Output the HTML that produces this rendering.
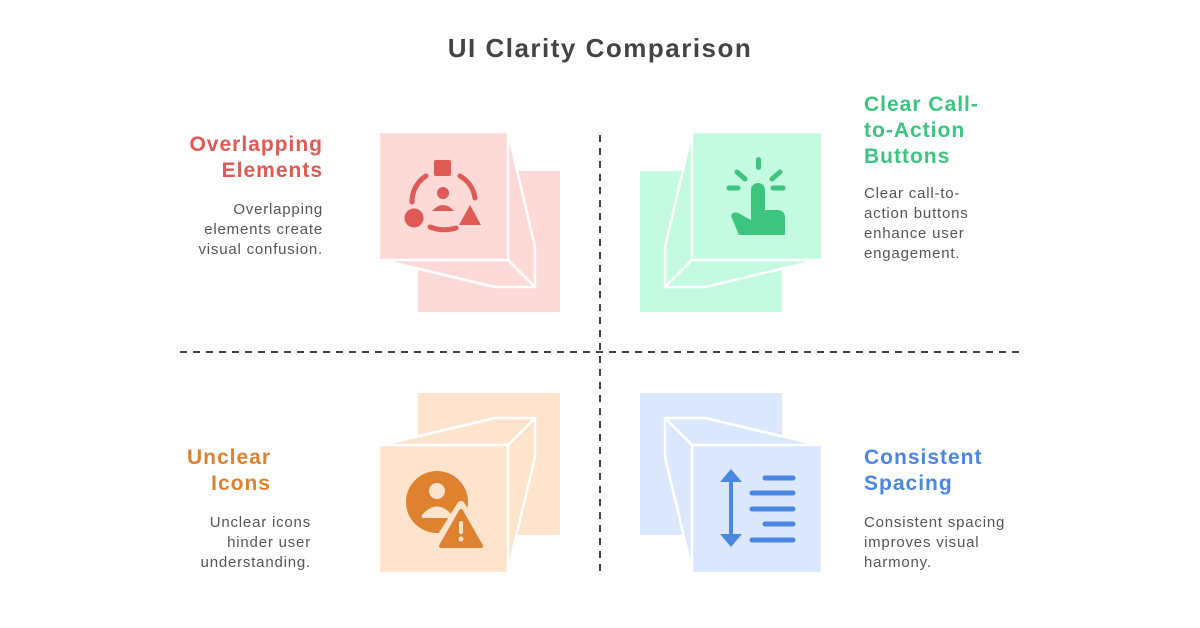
<!DOCTYPE html>
<html><head><meta charset="utf-8"><style>
body{margin:0;width:1200px;height:628px;background:#fff;position:relative;overflow:hidden;font-family:"Liberation Sans",sans-serif}
.t{position:absolute;white-space:nowrap}
.h{font-weight:bold;font-size:21px;line-height:26px;letter-spacing:1px}
.b{font-size:15px;line-height:20px;color:#555;letter-spacing:0.8px}
.r{text-align:right}
</style></head><body>
<svg width="1200" height="628" style="position:absolute;left:0;top:0">
<text x="600" y="57" text-anchor="middle" font-family="Liberation Sans" font-weight="bold" font-size="26" letter-spacing="1.5" fill="#444">UI Clarity Comparison</text>
<g stroke="#444" stroke-width="2" stroke-dasharray="7,6">
<line x1="600" y1="135" x2="600" y2="572"/>
<line x1="180" y1="352" x2="1020" y2="352"/>
</g>
<g stroke="#fff" stroke-width="2.5" stroke-linejoin="round">
<rect x="418" y="171" width="142" height="141" fill="#fdd9d8" stroke="none"/>
<polygon points="508,132 535,247 535,287 495,287 390,262 379,260 379,132" fill="#fdd9d8"/>
<rect x="379" y="132" width="129" height="128" fill="#fdd9d8"/>
<line x1="508" y1="260" x2="535" y2="287"/>
<rect x="640" y="171" width="142" height="141" fill="#c4fae0" stroke="none"/>
<polygon points="692,132 665,247 665,287 705,287 810,262 822,260 822,132" fill="#c4fae0"/>
<rect x="692" y="132" width="130" height="128" fill="#c4fae0"/>
<line x1="692" y1="260" x2="665" y2="287"/>
<rect x="418" y="393" width="142" height="142" fill="#fee3cd" stroke="none"/>
<polygon points="379,445 390,443 495,418 535,418 535,457 510,562 508,573 379,573" fill="#fee3cd"/>
<rect x="379" y="445" width="129" height="128" fill="#fee3cd"/>
<line x1="508" y1="445" x2="535" y2="418"/>
<rect x="640" y="393" width="142" height="142" fill="#dae7fd" stroke="none"/>
<polygon points="822,445 810,443 705,418 665,418 665,457 690,562 692,573 822,573" fill="#dae7fd"/>
<rect x="692" y="445" width="130" height="128" fill="#dae7fd"/>
<line x1="692" y1="445" x2="665" y2="418"/>
</g>
<g fill="#e05a55">
<rect x="434" y="160" width="17" height="16" rx="2"/>
<circle cx="414" cy="218" r="9.5"/>
<polygon points="470,205 481,225 459,225"/>
<circle cx="443" cy="193" r="6"/>
<path d="M432,211 q11,-12 22,0 z"/>
</g>
<g fill="none" stroke="#e05a55" stroke-width="5" stroke-linecap="round">
<path d="M426,176 A30,30 0 0 0 412,202"/>
<path d="M460,176 A30,30 0 0 1 475,198"/>
<path d="M430,227 Q443,232 456,228"/>
</g>
<g fill="#3dc47e">
<rect x="756" y="157" width="5" height="13" rx="2.5"/>
<g stroke="#3dc47e" stroke-width="5" stroke-linecap="round">
<line x1="737" y1="172" x2="745" y2="179"/>
<line x1="780" y1="172" x2="772" y2="179"/>
<line x1="729" y1="188" x2="738" y2="188"/>
<line x1="773" y1="188" x2="783" y2="188"/>
</g>
<path d="M751,190 a7,7 0 0 1 14,0 v20 h12 q8,0 8,8 v17 h-46 l-8,-19 q2,-6 9,-2 l11,6 z"/>
</g>
<circle cx="437" cy="502" r="31" fill="#df8230"/>
<circle cx="437" cy="491" r="8" fill="#fee3cd"/>
<path d="M422,515 q15,-17 30,0 v3 h-30 z" fill="#fee3cd"/>
<path d="M461,505 L488,550 L433,550 Z" fill="#fee3cd" stroke="#fee3cd" stroke-width="8" stroke-linejoin="round"/>
<path d="M461,511 L481,546 L441,546 Z" fill="#df8230" stroke="#df8230" stroke-width="4" stroke-linejoin="round"/>
<rect x="459" y="521" width="4" height="13" rx="2" fill="#fee3cd"/>
<circle cx="461" cy="539" r="2.5" fill="#fee3cd"/>
<g fill="#4a86e3">
<polygon points="731,469 720,482 742,482"/>
<polygon points="731,547 720,534 742,534"/>
<rect x="729" y="478" width="4" height="60"/>
</g>
<g stroke="#4a86e3" stroke-width="5" stroke-linecap="round">
<line x1="765" y1="478" x2="793" y2="478"/>
<line x1="752" y1="493" x2="793" y2="493"/>
<line x1="752" y1="509" x2="793" y2="509"/>
<line x1="765" y1="524" x2="793" y2="524"/>
<line x1="752" y1="540" x2="793" y2="540"/>
</g>
</svg>
<div class="t h r" style="right:877px;top:132px;color:#e05a55">Overlapping<br>Elements</div>
<div class="t b r" style="right:877px;top:200px">Overlapping<br>elements create<br>visual confusion.</div>
<div class="t h" style="left:864px;top:92px;color:#3dc47e">Clear Call-<br>to-Action<br>Buttons</div>
<div class="t b" style="left:864px;top:184px">Clear call-to-<br>action buttons<br>enhance user<br>engagement.</div>
<div class="t h r" style="right:929px;top:445px;color:#df8230">Unclear<br>Icons</div>
<div class="t b r" style="right:889px;top:513px">Unclear icons<br>hinder user<br>understanding.</div>
<div class="t h" style="left:864px;top:445px;color:#4a86e3">Consistent<br>Spacing</div>
<div class="t b" style="left:864px;top:513px">Consistent spacing<br>improves visual<br>harmony.</div>
</body></html>
